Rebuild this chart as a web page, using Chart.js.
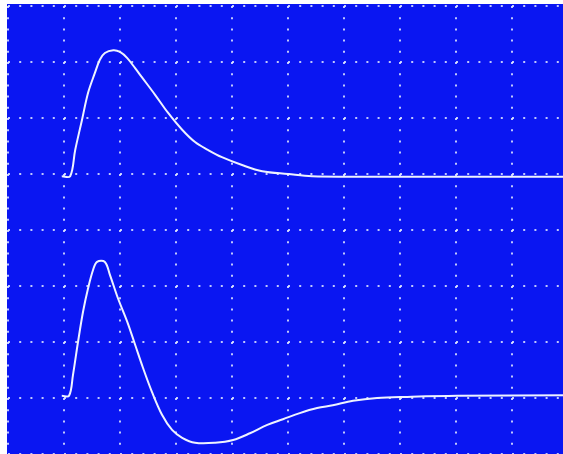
<!DOCTYPE html>
<html>
<head>
<meta charset="utf-8">
<script src="https://cdn.jsdelivr.net/npm/chart.js@4/dist/chart.umd.min.js"></script>
<style>
  html, body { margin: 0; padding: 0; background: #fff; overflow: hidden; }
  #wrap { width: 570px; height: 456px; }
</style>
</head>
<body>
<div id="wrap"><canvas id="scope"></canvas></div>
<script>
// ── trace data, in screen divisions (x: 0..10, y: -4..4) ──
const upperX = [0.96, 1.11, 1.20, 1.32, 1.43, 1.55, 1.64, 1.73, 1.88, 2.00, 2.13, 2.27, 2.39, 2.63, 2.86, 3.11, 3.34, 3.57, 3.82, 4.18, 4.54, 5.00, 5.43, 7.00, 10.0];
const upperY = [0.96, 0.96, 1.43, 1.96, 2.45, 2.80, 3.04, 3.16, 3.21, 3.18, 3.07, 2.89, 2.73, 2.41, 2.09, 1.79, 1.57, 1.43, 1.30, 1.16, 1.05, 1.00, 0.96, 0.95, 0.95];
const lowerX = [0.96, 1.09, 1.16, 1.25, 1.34, 1.43, 1.52, 1.59, 1.73, 1.82, 1.96, 2.13, 2.27, 2.41, 2.57, 2.75, 2.93, 3.11, 3.34, 3.70, 4.02, 4.32, 4.63, 4.91, 5.21, 5.52, 5.80, 6.16, 6.59, 7.13, 8.02, 10.0];
const lowerY = [-2.96, -2.96, -2.59, -2.00, -1.46, -1.04, -0.71, -0.57, -0.57, -0.80, -1.21, -1.64, -2.05, -2.46, -2.89, -3.30, -3.57, -3.71, -3.80, -3.80, -3.75, -3.63, -3.48, -3.38, -3.27, -3.18, -3.13, -3.05, -3.00, -2.98, -2.96, -2.95];

const BG = 'rgb(10, 22, 242)';
const TRACE = '#eef3ff';
const DOTS = 'rgba(225, 232, 255, 0.85)';

const pts = (xs, ys) => xs.map((x, i) => ({ x: x, y: ys[i] }));

// paint the screen blue behind the graticule
const screenBg = {
    id: 'screenBg',
    beforeDraw(chart) {
        const a = chart.chartArea, ctx = chart.ctx;
        ctx.save();
        ctx.fillStyle = BG;
        ctx.fillRect(a.left - 1, a.top - 2, a.right - a.left + 2, a.bottom - a.top + 3);
        ctx.restore();
    }
};

const gridOpts = {
    grid: { color: DOTS, lineWidth: 2, drawTicks: false },
    border: { display: false, dash: [2, 9.2] },
    ticks: { display: false, stepSize: 1 }
};

new Chart(document.getElementById('scope'), {
    type: 'line',
    data: {
        datasets: [
            { data: pts(upperX, upperY), borderColor: TRACE, borderWidth: 2, pointRadius: 0, tension: 0.35 },
            { data: pts(lowerX, lowerY), borderColor: TRACE, borderWidth: 2, pointRadius: 0, tension: 0.35 }
        ]
    },
    options: {
        responsive: true,
        maintainAspectRatio: false,
        animation: false,
        layout: { padding: { left: 8, top: 6, right: 2, bottom: 2 } },
        plugins: { legend: { display: false }, tooltip: { enabled: false } },
        scales: {
            x: { type: 'linear', min: 0, max: 10, ...gridOpts },
            y: { type: 'linear', min: -4, max: 4, ...gridOpts }
        }
    },
    plugins: [screenBg]
});
</script>
</body>
</html>
